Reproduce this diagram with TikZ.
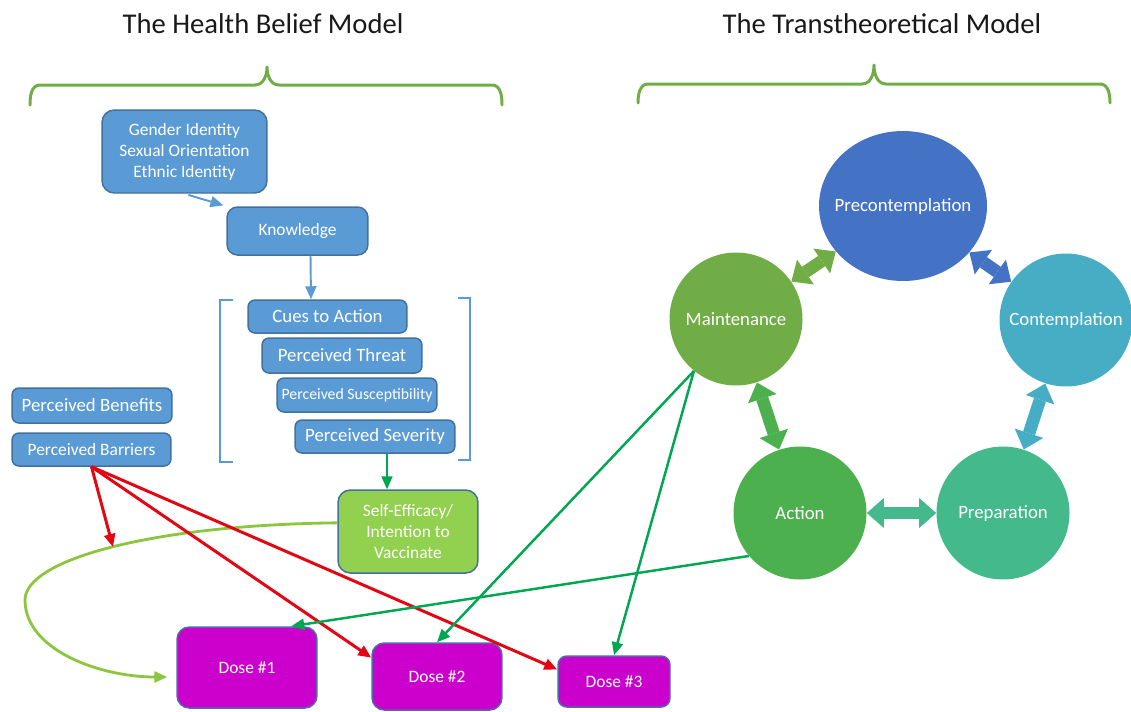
\documentclass[tikz,border=0pt]{standalone}
\usepackage{fontspec}
\setmainfont{Carlito}
\usetikzlibrary{arrows.meta,shapes.geometric,calc}
\definecolor{hbmblue}{HTML}{5B9BD5}
\definecolor{hbmedge}{HTML}{41719C}
\definecolor{efficacygreen}{HTML}{92D050}
\definecolor{dosepink}{HTML}{CC00CC}
\definecolor{doseedge}{HTML}{4F6AAE}
\definecolor{bracegreen}{HTML}{70AD47}
\definecolor{precolor}{HTML}{4472C4}
\definecolor{contcolor}{HTML}{46ADC4}
\definecolor{prepcolor}{HTML}{43B98C}
\definecolor{actcolor}{HTML}{4CB04E}
\definecolor{maintcolor}{HTML}{70AD47}
\definecolor{barrierred}{HTML}{E30613}
\definecolor{stagegreen}{HTML}{00A650}
\definecolor{loopgreen}{HTML}{8CC63F}
\tikzset{
	hbmbox/.style={rectangle, rounded corners=4pt, draw=hbmedge, line width=0.85pt, fill=hbmblue, text=white, inner sep=0pt, align=center, font=\fontsize{10.7}{12.6}\selectfont},
	smalltext/.style={font=\fontsize{9.9}{12}\selectfont},
	dosebox/.style={hbmbox, fill=dosepink, draw=doseedge, rounded corners=7pt, smalltext},
	stage/.style={ellipse, inner sep=0pt, minimum width=2.66cm, minimum height=2.66cm, label={[text=white, font=\fontsize{10.7}{12.6}\selectfont]center:#1}},
	stagelink/.style={line width=0.25cm, {Triangle[length=0.34cm,width=0.6cm,line width'=0pt]}-{Triangle[length=0.34cm,width=0.6cm,line width'=0pt]}},
	modelbrace/.style={draw=bracegreen, line width=1.7pt, line cap=round, line join=round},
	hbmbracket/.style={draw=hbmblue, line width=1.2pt},
	thinarrow/.style={-{Triangle[length=0.26cm,width=0.22cm]}},
	modeltitle/.style={font=\fontsize{16.3}{19}\selectfont, text=black!90},
}
\begin{document}
\begin{tikzpicture}[x=0.02cm, y=-0.02cm]
	\useasboundingbox (0,0) rectangle (1131,711);
	\path (263,24) node (hbmtitle) [modeltitle] {The Health Belief Model}
		  (882,24) node (ttmtitle) [modeltitle] {The Transtheoretical Model};
	\draw[modelbrace] (30,105) to[out=90,in=180] (40,85) -- (255,85) to[out=0,in=-90] (267,67) to[out=-90,in=180] (279,85) -- (492,85) to[out=0,in=90] (502,105);
	\draw[modelbrace] (638,103) to[out=90,in=180] (648,84) -- (862,84) to[out=0,in=-90] (874,65) to[out=-90,in=180] (886,84) -- (1100,84) to[out=0,in=90] (1110,103);
	\path (184.5,151.5) node (gender) [hbmbox, smalltext, rounded corners=7pt, minimum width=3.3cm, minimum height=1.66cm] {Gender Identity\\Sexual Orientation\\Ethnic Identity}
		  (297.5,231) node (know) [hbmbox, smalltext, rounded corners=6pt, minimum width=2.82cm, minimum height=0.96cm] {Knowledge}
		  (327.5,316.5) node (cues) [hbmbox, minimum width=3.18cm, minimum height=0.66cm] {Cues to Action}
		  (342,355.5) node (threat) [hbmbox, minimum width=3.2cm, minimum height=0.7cm] {Perceived Threat}
		  (357,395) node (suscept) [hbmbox, font=\fontsize{9}{11}\selectfont, minimum width=3.2cm, minimum height=0.68cm] {Perceived Susceptibility}
		  (375,436.5) node (severity) [hbmbox, minimum width=3.2cm, minimum height=0.66cm] {Perceived Severity}
		  (92,405.5) node (benefits) [hbmbox, minimum width=3.2cm, minimum height=0.7cm] {Perceived Benefits}
		  (91.5,449.5) node (barriers) [hbmbox, smalltext, minimum width=3.18cm, minimum height=0.66cm] {Perceived Barriers}
		  (408,531.5) node (selfeff) [hbmbox, smalltext, fill=efficacygreen, rounded corners=7pt, minimum width=2.8cm, minimum height=1.66cm] {Self-Efficacy/\\Intention to\\Vaccinate};
	\path (247,667.5) node (dose1) [dosebox, minimum width=2.8cm, minimum height=1.62cm] {Dose \#1}
		  (437,676.5) node (dose2) [dosebox, minimum width=2.6cm, minimum height=1.34cm] {Dose \#2}
		  (614,681.5) node (dose3) [dosebox, rounded corners=5pt, minimum width=2.24cm, minimum height=1.02cm] {Dose \#3};
	\draw[hbmbracket] (233,300) -- (220,300) -- (220,462) -- (233,462);
	\draw[hbmbracket] (458,298) -- (470,298) -- (470,460) -- (458,460);
	\draw[thinarrow, hbmblue, line width=1.1pt, shorten <=0.08cm, shorten >=0.06cm] (gender.south) -- (know.north west);
	\draw[thinarrow, hbmblue, line width=1.1pt] ($(know.south)+(13,0)$) -- ($(cues.north)+(-16.5,0)$);
	\draw[thinarrow, stagegreen, line width=1.1pt] ($(severity.south)+(12,0)$) -- ($(selfeff.north)+(-21,0)$);
	\path (903,206) node (precon) [stage=Precontemplation, fill=precolor, minimum width=3.36cm, minimum height=3cm] {}
		  (1066,320) node (contemp) [stage=Contemplation, fill=contcolor] {}
		  (1003,513) node (prep) [stage=Preparation, fill=prepcolor] {}
		  (800,513) node (action) [stage=Action, fill=actcolor] {}
		  (736,319) node (maint) [stage=Maintenance, fill=maintcolor] {};
	\draw[stagelink, maintcolor] (maint) -- (precon);
	\draw[stagelink, precolor] (precon) -- (contemp);
	\draw[stagelink, contcolor] (contemp) -- (prep);
	\draw[stagelink, prepcolor] (prep) -- (action);
	\draw[stagelink, actcolor] (action) -- (maint);
	\draw[thinarrow, loopgreen, line width=1.6pt] (selfeff.173) .. controls (150,525) and (25,560) .. (25,600) .. controls (25,650) and (100,677) .. ($(dose1.west)+(-9,9.5)$);
	\coordinate (loopmark) at (113,547);
	\draw[thinarrow, barrierred, line width=1.7pt] (barriers.south) -- (loopmark);
	\draw[thinarrow, barrierred, line width=1.7pt] (barriers.south) -- (dose2.164);
	\draw[thinarrow, barrierred, line width=1.7pt] (barriers.south) -- (dose3.168);
	\draw[thinarrow, stagegreen, line width=1.4pt] (maint.231) -- (dose2.north);
	\draw[thinarrow, stagegreen, line width=1.4pt] (maint.231) -- (dose3.north);
	\draw[thinarrow, stagegreen, line width=1.4pt] (action.220) -- (dose1.43);
\end{tikzpicture}
\end{document}
